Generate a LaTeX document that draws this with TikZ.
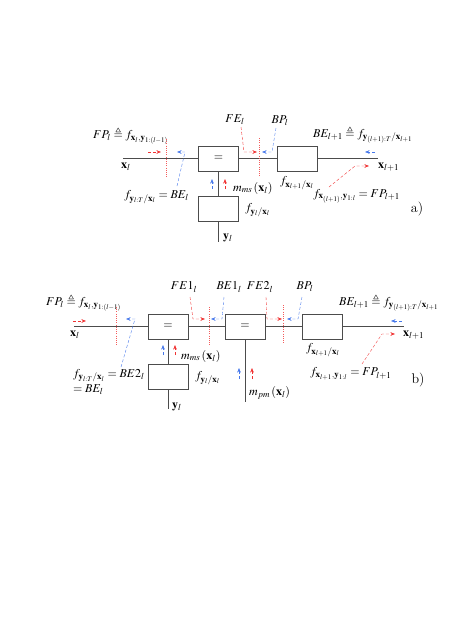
\documentclass[tikz,border=0pt]{standalone}
\usepackage{amsmath,amssymb}
\usepackage{mathptmx}
\usepackage{xcolor}
\usepackage{tikz}
\usetikzlibrary{arrows, arrows.meta, positioning}

\definecolor{msgred}{RGB}{240,50,50}
\definecolor{msgblue}{RGB}{70,120,235}

\begin{document}
\begin{tikzpicture}[
    x=1pt, y=-1pt,
    font=\fontsize{12}{14}\selectfont,
    fnode/.style={
        draw=black!70, rectangle, line width=1pt,
        minimum width=40pt, minimum height=25pt,
        inner sep=0pt, fill=white
    },
    wire/.style={draw=black!70, line width=1pt},
    redmsg/.style={draw=msgred, dashed, dash pattern=on 3pt off 2pt, ->, >={Stealth[length=4.5pt,width=3.5pt]}},
    bluemsg/.style={draw=msgblue, dashed, dash pattern=on 3pt off 2pt, ->, >={Stealth[length=4.5pt,width=3.5pt]}},
    cutline/.style={draw=msgred!80, line width=0.5pt, dash pattern=on 1pt off 1.2pt},
    lbl/.style={inner sep=0pt, anchor=west}
]
\useasboundingbox (0,0) rectangle (473,630);

% ================= a) =================
\node (eqa)  [fnode] at (218.5,158.5) {$=$};
\node (ya)   [fnode] at (218.5,209)   {};
\node (tra)  [fnode] at (297,158.5)   {};
\coordinate (xina)  at (123,158.5);
\coordinate (xouta) at (378,158.5);
\coordinate (yenda) at (218.5,242);

% --- wires
\draw [wire] (xina) -- (eqa.west);
\draw [wire] (eqa.east) -- (tra.west);
\draw [wire] (tra.east) -- (xouta);
\draw [wire] (eqa.south) -- (ya.north);
\draw [wire] (ya.south) -- (yenda);

% --- labels
\node (xla)   [lbl] at (121,167) {$\mathbf{x}_l$};
\node (fpa)   [lbl] at (93,136)  {$FP_l \triangleq f_{\mathbf{x}_l,\mathbf{y}_{1:(l-1)}}$};
\node (bea)   [lbl] at (124,197) {$f_{\mathbf{y}_{l:T}/\mathbf{x}_l} = BE_l$};
\node (mmsa)  [lbl] at (233,188) {$m_{ms}\left(\mathbf{x}_l\right)$};
\node (fya)   [lbl] at (245,210) {$f_{\mathbf{y}_l/\mathbf{x}_l}$};
\node (yla)   [lbl] at (223,238) {$\mathbf{y}_l$};
\node (fea)   [inner sep=0pt] at (235,120) {$FE_l$};
\node (bpa)   [inner sep=0pt] at (280,121) {$BP_l$};
\node (bena)  [lbl] at (313,135) {$BE_{l+1} \triangleq f_{\mathbf{y}_{(l+1):T}/\mathbf{x}_{l+1}}$};
\node (ftra)  [inner sep=0pt] at (297,183) {$f_{\mathbf{x}_{l+1}/\mathbf{x}_l}$};
\node (xra)   [lbl] at (378,167) {$\mathbf{x}_{l+1}$};
\node (fpna)  [lbl] at (313,196) {$f_{\mathbf{x}_{(l+1)},\mathbf{y}_{1:l}} = FP_{l+1}$};
\node (taga)  [inner sep=0pt] at (417,209) {\fontsize{14}{16}\selectfont a)};

% --- cuts
\draw [cutline] (166,139) -- (166,178);
\draw [cutline] (259,138) -- (259,177);

% --- messages
\coordinate (p1a) at (161,152);
\coordinate (b1a) at (177,152);
\coordinate (f1a) at (257,152);
\coordinate (b2a) at (262,152);
\coordinate (b3a) at (365,152);
\coordinate (f3a) at (369,166);
\draw [redmsg]  (148,152) -- (p1a);
\draw [bluemsg] (177,186) -- (185,152) -- (b1a);
\draw [redmsg]  (241,127) -- (244,152) -- (f1a);
\draw [bluemsg] (276,128) -- (272,152) -- (b2a);
\draw [bluemsg] (375,152) -- (b3a);
\draw [redmsg]  (329,187) -- (355,166) -- (f3a);
\draw [bluemsg] (212,189) -- ++(0,-10);
\draw [redmsg]  (225,189) -- ++(0,-10);

% ================= b) =================
\node (eqb1) [fnode] at (168,326.5) {$=$};
\node (yb)   [fnode] at (168,376.5) {};
\node (eqb2) [fnode] at (245,326.5) {$=$};
\node (trb)  [fnode] at (322,326.5) {};
\coordinate (xinb)  at (74,326.5);
\coordinate (xoutb) at (404,326.5);
\coordinate (yendb) at (168,409);
\coordinate (pmb)   at (245,402);

% --- wires
\draw [wire] (xinb) -- (eqb1.west);
\draw [wire] (eqb1.east) -- (eqb2.west);
\draw [wire] (eqb2.east) -- (trb.west);
\draw [wire] (trb.east) -- (xoutb);
\draw [wire] (eqb1.south) -- (yb.north);
\draw [wire] (yb.south) -- (yendb);
\draw [wire] (eqb2.south) -- (pmb);

% --- labels
\node (xlb)   [lbl] at (70,335)  {$\mathbf{x}_l$};
\node (fpb)   [lbl] at (46,303)  {$FP_l \triangleq f_{\mathbf{x}_l,\mathbf{y}_{1:(l-1)}}$};
\node (beb)   [lbl, align=left, anchor=north west] at (73,369)
      {$f_{\mathbf{y}_{l:T}/\mathbf{x}_l} = BE2_l$\\[1pt]$= BE_l$};
\node (mmsb)  [lbl] at (181,356) {$m_{ms}\left(\mathbf{x}_l\right)$};
\node (fyb)   [lbl] at (195,378) {$f_{\mathbf{y}_l/\mathbf{x}_l}$};
\node (ylb)   [lbl] at (172,407) {$\mathbf{y}_l$};
\node (fe1b)  [inner sep=0pt] at (184,287) {$FE1_l$};
\node (be1b)  [inner sep=0pt] at (229,287) {$BE1_l$};
\node (fe2b)  [inner sep=0pt] at (260,287) {$FE2_l$};
\node (bpb)   [inner sep=0pt] at (305,287) {$BP_l$};
\node (mpmb)  [lbl] at (249,393) {$m_{pm}\left(\mathbf{x}_l\right)$};
\node (ftrb)  [inner sep=0pt] at (323,350) {$f_{\mathbf{x}_{l+1}/\mathbf{x}_l}$};
\node (benb)  [lbl] at (339,303) {$BE_{l+1} \triangleq f_{\mathbf{y}_{(l+1):T}/\mathbf{x}_{l+1}}$};
\node (xrb)   [lbl] at (403,335) {$\mathbf{x}_{l+1}$};
\node (fpnb)  [lbl] at (310,374) {$f_{\mathbf{x}_{l+1},\mathbf{y}_{1:l}} = FP_{l+1}$};
\node (tagb)  [inner sep=0pt] at (418,380) {\fontsize{14}{16}\selectfont b)};

% --- cuts
\draw [cutline] (116,307) -- (116,345);
\draw [cutline] (209,307) -- (209,345);
\draw [cutline] (283,305) -- (283,344);

% --- messages
\coordinate (p1b) at (86,321);
\coordinate (b1b) at (126,319);
\coordinate (f1b) at (205,319);
\coordinate (b2b) at (211,319);
\coordinate (f2b) at (282,319);
\coordinate (b3b) at (287,319);
\coordinate (b4b) at (391,321);
\coordinate (f4b) at (395,334);
\draw [redmsg]  (73,321) -- (p1b);
\draw [bluemsg] (121,367) -- (135,319) -- (b1b);
\draw [redmsg]  (190,297) -- (193,319) -- (f1b);
\draw [bluemsg] (224,297) -- (222,319) -- (b2b);
\draw [redmsg]  (266,297) -- (267,319) -- (f2b);
\draw [bluemsg] (302,297) -- (298,319) -- (b3b);
\draw [bluemsg] (402,321) -- (b4b);
\draw [redmsg]  (362,364) -- (382,334) -- (f4b);
\draw [bluemsg] (163,355) -- ++(0,-10);
\draw [redmsg]  (175,355) -- ++(0,-10);
\draw [bluemsg] (239,379) -- ++(0,-11);
\draw [redmsg]  (252,379) -- ++(0,-11);

\end{tikzpicture}
\end{document}
